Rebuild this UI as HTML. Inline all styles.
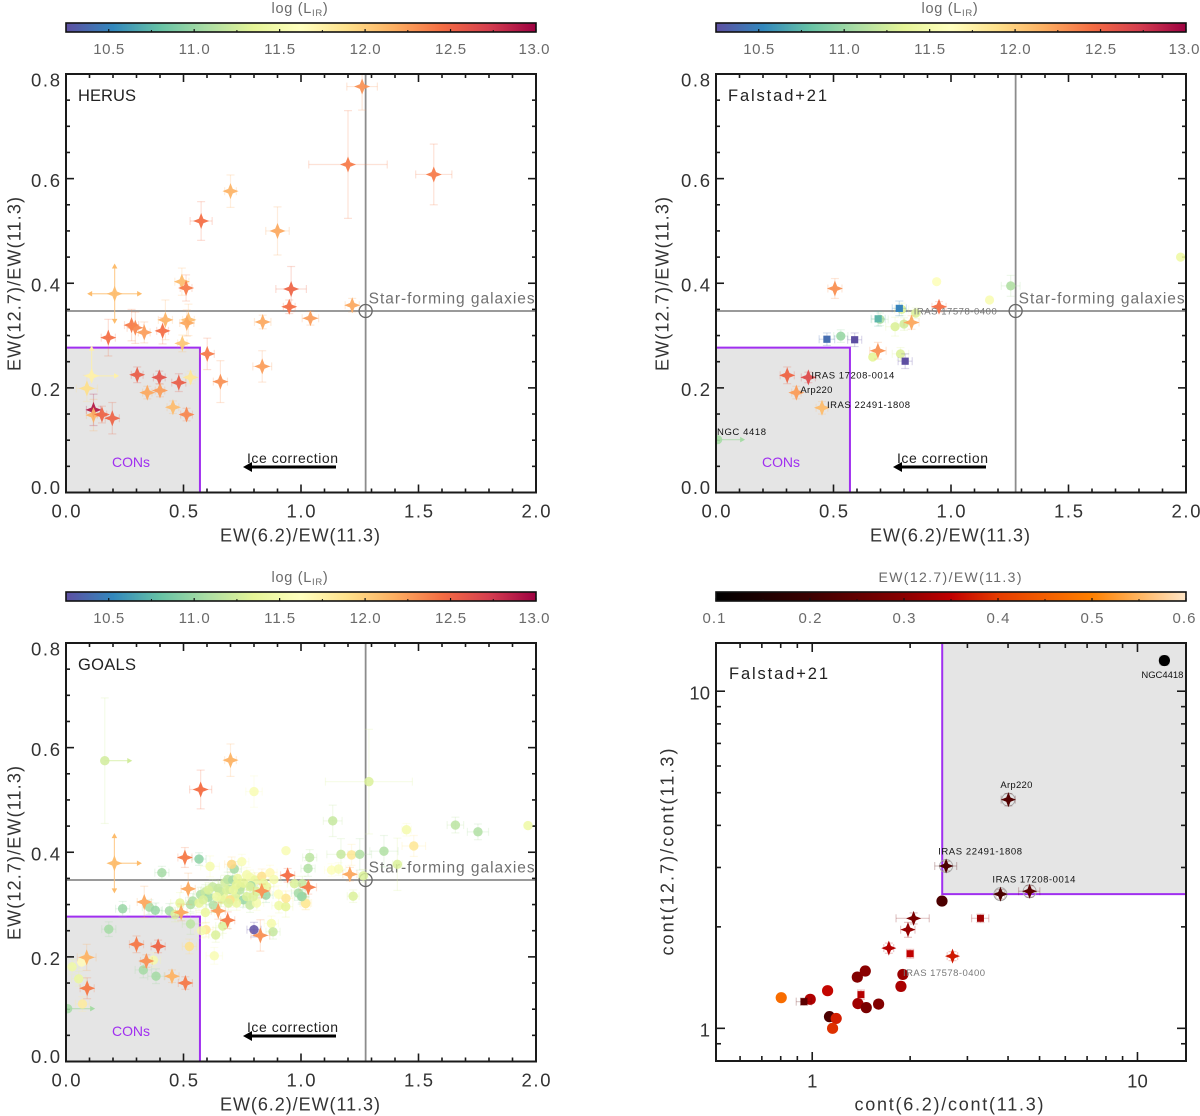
<!DOCTYPE html>
<html>
<head>
<meta charset="utf-8">
<title>PAH equivalent width ratio diagrams</title>
<style>
html,body{margin:0;padding:0;background:#fff}
svg{display:block}
text{font-family:"Liberation Sans",sans-serif}
</style>
</head>
<body>
<svg id="fig" xmlns="http://www.w3.org/2000/svg" width="1200" height="1116" viewBox="0 0 1200 1116">
<defs id="defs"></defs>
<rect width="1200" height="1116" fill="#fff"></rect>
<g id="p1"></g>
<g id="p2"></g>
<g id="p3"></g>
<g id="p4"></g>
</svg>
<script>
/* ---------- shared axis labels ---------- */
const ewXTicks = [0, 0.5, 1, 1.5, 2];
const ewXTickLabels = ['0.0', '0.5', '1.0', '1.5', '2.0'];
const ewYTicks = [0, 0.2, 0.4, 0.6, 0.8];
const ewYTickLabels = ['0.0', '0.2', '0.4', '0.6', '0.8'];
const lirTicks = [10.5, 11, 11.5, 12, 12.5, 13];
const lirTickLabels = ['10.5', '11.0', '11.5', '12.0', '12.5', '13.0'];
const ratioTicks = [0.1, 0.2, 0.3, 0.4, 0.5, 0.6];
const ratioTickLabels = ['0.1', '0.2', '0.3', '0.4', '0.5', '0.6'];
const contXMajor = [1, 10];
const contXMinor = [0.6, 0.7, 0.8, 0.9, 2, 3, 4, 5, 6, 7, 8, 9];
const contYMajor = [1, 10];
const contYMinor = [0.9, 2, 3, 4, 5, 6, 7, 8, 9];
const contTickLabels = ['1', '10'];

/* ---------- reference positions ---------- */
const starFormingX = 1.275;
const starFormingY = 0.347;
const conLimitX = 0.57;
const conLimitY = 0.277;
const contConLimitX = 2.51;
const contConLimitY = 2.5;

/* ---------- HERUS ---------- */
const herusX = [1.26,1.20,1.565,.70,.575,.90,.958,.493,.511,.207,1.218,.95,1.04,.837,.423,.521,.514,.279,.295,.333,.411,.18,.495,.601,.835,.657,.303,.397,.48,.53,.109,.089,.346,.40,.455,.513,.117,.117,.153,.197];
const herusY = [.776,.627,.608,.576,.519,.50,.389,.403,.391,.38,.358,.355,.333,.326,.33,.33,.324,.32,.315,.306,.309,.296,.285,.265,.241,.212,.225,.22,.21,.22,.223,.199,.191,.195,.163,.149,.158,.148,.149,.142];
const herusXerr = [.065,.167,.077,.025,.047,.05,.065,.03,.025,.1,.03,.025,.035,.035,.03,.025,.03,.03,.035,.025,.025,.03,.02,.03,.04,.03,.025,.025,.03,.02,.1,.045,.02,.02,.025,.025,.03,.03,.02,.03];
const herusYerr = [.045,.103,.058,.031,.037,.046,.043,.026,.025,.05,.013,.013,.013,.013,.038,.03,.025,.03,.03,.02,.025,.035,.016,.03,.03,.04,.015,.012,.017,.012,.05,.025,.012,.012,.012,.012,.03,.03,.016,.03];
const herusLir = [12.3,12.4,12.4,12.15,12.45,12.2,12.5,12.1,12.4,12.1,12.2,12.45,12.25,12.2,12.15,12.1,12.2,12.4,12.35,12.25,12.45,12.45,12.05,12.4,12.25,12.3,12.55,12.6,12.55,11.85,11.75,11.9,12.2,12.25,12.1,12.35,12.9,12.15,12.5,12.5];
const herusArrows = {9: 'lrud', 30: 'ru'};

/* ---------- Falstad+21, EW plane ---------- */
const falCircleX = [.79,.939,1.164,1.254,1.977,.698,.762,.80,.85,.531,.667,.785,.007];
const falCircleY = [.35,.403,.368,.395,.45,.331,.317,.322,.343,.299,.259,.265,.101];
const falCircleXerr = [.03,0,0,.04,0,.035,.04,.03,.02,.03,0,.035,.1];
const falCircleYerr = [.012,0,0,.02,0,.012,.018,.012,.01,.012,0,.012,0];
const falCircleLir = [11.3,11.6,11.55,11.1,11.45,11.1,11.3,11.25,11.3,11.0,11.35,11.3,11.05];
const falCircleArrows = {12: 'r'};
const falStarX = [.506,.949,.832,.689,.303,.393,.342,.451];
const falStarY = [.39,.355,.325,.271,.224,.22,.191,.162];
const falStarXerr = [.03,.03,.032,.035,.03,.03,.02,.025];
const falStarYerr = [.019,.01,.013,.016,.016,.01,.012,.012];
const falStarLir = [12.3,12.45,12.2,12.3,12.5,12.65,12.25,12.1];
const falSquareX = [.78,.69,.472,.59,.805];
const falSquareY = [.352,.332,.293,.292,.251];
const falSquareXerr = [.03,.03,.033,.03,.03];
const falSquareYerr = [.014,.014,.012,.013,.014];
const falSquareLir = [10.5,10.75,10.4,10.25,10.25];
const falSourceNames = ['IRAS 17208-0014', 'Arp220', 'IRAS 22491-1808', 'NGC 4418', 'IRAS 17578-0400'];

/* ---------- GOALS ---------- */
const goalsCircleX = [.165,.80,1.135,.566,.408,.613,.936,1.037,1.03,1.17,1.13,1.16,1.289,1.449,1.657,1.753,1.966,1.353,1.48,1.41,1.215,1.25,1.265,1.222,1.02,1.005,
 .329,.383,.372,.525,.067,.026,.054,.07,.007,.631,
 .241,.355,.380,.440,.464,.485,.530,.182,.530,.539,
 .566,.573,.593,.607,.593,.596,.577,.637,.667,.874,
 .881,.627,.624,.648,.661,.670,.677,.688,.709,.716,
 .705,.748,.698,.721,.730,.743,.769,.783,.804,.787,
 .755,.740,.783,.811,.769,.726,.698,.833,.868,.885,
 .854,.851,.904,.906,.935,.936,1.020,.989,1.003,.972,
 1.006,.655,.684,.712,.755,.811,.641,.606,.584,.783,
 .726,.691,.797,.840,.80];
const goalsCircleY = [.575,.516,.46,.387,.361,.373,.403,.39,.369,.396,.366,.368,.535,.443,.452,.439,.451,.402,.412,.377,.395,.396,.355,.316,.302,.316,
 .175,.163,.194,.22,.19,.181,.158,.11,.101,.202,
 .292,.295,.289,.288,.281,.303,.263,.253,.300,.307,
 .303,.319,.324,.314,.285,.252,.250,.242,.259,.264,
 .248,.299,.334,.331,.310,.315,.342,.348,.347,.368,
 .377,.382,.329,.315,.350,.334,.357,.352,.347,.336,
 .309,.328,.299,.303,.315,.303,.309,.354,.361,.348,
 .334,.318,.320,.298,.296,.312,.303,.322,.315,.340,
 .340,.325,.328,.328,.341,.325,.315,.328,.309,.334,
 .338,.303,.315,.341,.252];
const goalsCircleXerr = [.1,.035,.04,.03,.03,.04,0,.03,.03,.06,.03,.03,.185,.02,.035,.045,0,.06,.05,.02,.03,.05,.02,.025,.02,.02,
 .035,.035,.03,.03,.03,.03,.03,.03,.1,.035,
 .03,.03,.03,.035,.03,.04,.035,.03,.03,.03,
 .03,.03,.03,.03,.04,.03,.03,.03,.03,.03,
 .03,.03,.03,.03,.03,.03,.03,.03,.03,.03,
 .03,.03,.03,.035,.03,.03,.03,.03,.03,.03,
 .03,.03,.03,.03,.03,.03,.03,.03,.03,.03,
 .03,.03,.03,.03,.03,.03,.025,.03,.03,.03,
 .03,.03,.03,.03,.03,.03,.03,.03,.03,.03,
 .03,.03,.03,.03,.03];
const goalsCircleYerr = [.12,.03,.03,.012,.012,.02,0,.015,.015,.03,.012,.012,.1,.012,.015,.015,0,.03,.02,.05,.02,.03,.012,.012,.012,.012,
 .015,.014,.014,.014,.014,.014,.014,.014,0,.016,
 .014,.014,.014,.014,.014,.02,.02,.014,.014,.014,
 .014,.014,.014,.014,.02,.014,.014,.014,.014,.014,
 .014,.014,.014,.014,.014,.014,.014,.014,.014,.014,
 .014,.014,.014,.016,.014,.014,.014,.014,.014,.014,
 .014,.014,.014,.014,.014,.014,.014,.014,.014,.014,
 .014,.014,.016,.014,.02,.014,.012,.014,.014,.014,
 .014,.014,.014,.014,.014,.014,.014,.014,.014,.014,
 .014,.014,.014,.014,.014];
const goalsCircleLir = [11.25,11.55,11.2,10.95,11.05,11.5,11.55,11.15,11.1,11.2,11.6,11.55,11.3,11.5,11.15,11.1,11.45,11.1,11.85,11.3,11.85,11.1,11.3,11.3,11.9,11.05,
 11.05,11.05,11.5,11.9,11.65,11.45,11.4,11.8,11.05,11.55,
 11.0,11.05,11.0,11.05,11.3,11.35,11.15,11.05,11.1,11.1,
 11.35,11.1,11.2,11.05,11.4,11.85,11.5,11.3,11.3,11.5,
 11.2,11.1,11.2,11.2,11.3,11.4,11.25,11.15,11.05,11.05,
 11.95,11.55,11.1,11.3,11.4,11.2,11.5,11.5,11.4,11.05,
 11.0,11.15,11.2,11.5,11.3,11.4,11.9,11.9,11.7,11.5,
 11.4,11.0,11.6,11.45,11.35,11.85,11.8,11.05,11.0,11.3,
 11.2,11.2,11.3,11.4,11.35,11.3,11.45,11.3,11.3,11.3,
 11.35,11.3,11.3,11.4,10.25];
const goalsCircleArrows = {0: 'r', 34: 'r'};
const goalsStarX = [.573,.70,.506,.206,.943,1.031,.52,.333,.833,.49,.648,.688,.827,1.208,.30,.392,.342,.451,.508,.088,.09];
const goalsStarY = [.52,.576,.39,.379,.356,.333,.33,.305,.326,.285,.288,.27,.241,.358,.224,.22,.192,.163,.15,.199,.14];
const goalsStarXerr = [.047,.025,.03,.1,.03,.035,.03,.03,.035,.025,.03,.03,.04,.03,.03,.03,.025,.03,.03,.04,.03];
const goalsStarYerr = [.037,.031,.019,.05,.013,.013,.03,.03,.013,.016,.016,.016,.03,.013,.016,.012,.012,.012,.012,.025,.02];
const goalsStarLir = [12.45,12.15,12.4,12.1,12.45,12.4,12.2,12.2,12.3,12.2,12.25,12.4,12.3,12.2,12.4,12.5,12.3,12.15,12.4,12.15,12.4];
const goalsStarArrows = {3: 'rud'};

/* ---------- Falstad+21, continuum plane ---------- */
const contCircleX = [.803,.986,1.115,1.13,1.185,1.155,1.376,1.456,1.382,1.466,1.6,1.874,1.90,2.506,12.1];
const contCircleY = [1.233,1.219,1.293,1.083,1.07,1.0,1.419,1.479,1.184,1.152,1.18,1.332,1.445,2.385,12.33];
const contCircleXerr = [0,.03,.03,.02,.02,.02,.04,.04,.03,.03,.05,.05,.05,0,.4];
const contCircleYerr = [.03,.03,.03,.02,.02,.02,.04,.04,.03,.03,.03,.04,.04,0,.4];
const contCircleRatio = [.47,.335,.355,.22,.375,.39,.29,.30,.32,.28,.29,.33,.315,.22,.1];
const contStarX = [1.72,2.70,1.97,2.05,3.79,4.66,2.58,4.01];
const contStarY = [1.73,1.638,1.962,2.12,2.5,2.55,3.03,4.77];
const contStarXerr = [.06,.1,.1,.24,.12,.35,.2,.2];
const contStarYerr = [.06,.05,.1,.08,.08,.1,.1,.2];
const contStarRatio = [.34,.37,.31,.28,.22,.24,.22,.23];
const contStarRinged = [0,0,0,0,1,1,1,1];
const contSquareX = [.943,1.412,2.0,3.29];
const contSquareY = [1.20,1.259,1.665,2.12];
const contSquareXerr = [.05,.03,.05,.2];
const contSquareYerr = [.03,.04,.05,.06];
const contSquareRatio = [.24,.34,.35,.32];
const contSourceNames = ['NGC4418', 'Arp220', 'IRAS 22491-1808', 'IRAS 17208-0014', 'IRAS 17578-0400'];

/* ---------- helpers ---------- */
const NS = 'http://www.w3.org/2000/svg';
function mk(tag, attrs, parent) {
  const el = document.createElementNS(NS, tag);
  for (const k in attrs) el.setAttribute(k, attrs[k]);
  if (parent) parent.appendChild(el);
  return el;
}
function hexRgb(h) { return [1, 3, 5].map(i => parseInt(h.substr(i, 2), 16)); }
function ramp(stops, t) {
  t = Math.max(0, Math.min(1, t));
  for (let i = 1; i < stops.length; i++) {
    if (t <= stops[i][0]) {
      const a = stops[i - 1], b = stops[i], f = (t - a[0]) / (b[0] - a[0]);
      const ca = hexRgb(a[1]), cb = hexRgb(b[1]);
      return 'rgb(' + ca.map((v, j) => Math.round(v + (cb[j] - v) * f)).join(',') + ')';
    }
  }
  return stops[stops.length - 1][1];
}
const spectral = ['#5e4fa2','#3288bd','#66c2a5','#abdda4','#e6f598','#ffffbf','#fee08b','#fdae61','#f46d43','#d53e4f','#9e0142'].map((c, i) => [i / 10, c]);
const heat = [[0,'#000000'],[.2,'#3c0000'],[.4,'#8a0000'],[.5,'#c00000'],[.6,'#e63c00'],[.8,'#ff8000'],[.9,'#ffb560'],[1,'#ffe6c8']];
const lirColor = v => ramp(spectral, (v - 10.25) / 2.75);
const ratioColor = v => ramp(heat, (v - 0.1) / 0.5);
let clipCount = 0;
function makeClip(L, T, R, B) {
  const id = 'clip' + (clipCount++);
  const c = mk('clipPath', {id: id}, document.getElementById('defs'));
  mk('rect', {x: L, y: T, width: R - L, height: B - T}, c);
  return id;
}

function txt(parent, x, y, str, size, fill, anchor, len, name, rot) {
  const a = {x: x, y: y + size * 0.36, 'font-size': size, fill: fill, 'text-anchor': anchor};
  if (len) { a.textLength = len; a.lengthAdjust = 'spacing'; }
  if (rot) a.transform = 'rotate(' + rot + ' ' + x + ' ' + y + ')';
  const t = mk('text', a, parent);
  t.textContent = str;
  
  
  return t;
}
function seg(parent, x1, y1, x2, y2, stroke, w, name, op) {
  const l = mk('line', {x1: x1, y1: y1, x2: x2, y2: y2, stroke: stroke, 'stroke-width': w}, parent);
  if (op) l.setAttribute('stroke-opacity', op);
  
  
  return l;
}
function arrowHead(parent, x, y, dx, dy, col, s) {
  const p = mk('polygon', {
    points: [x + dx * s, y + dy * s, x - dy * s * 0.55, y + dx * s * 0.55, x + dy * s * 0.55, y - dx * s * 0.55].join(','),
    fill: col
  }, parent);
  
  
}
function marker(parent, kind, px, py, size, col, op) {
  let m;
  if (kind === 'circle') {
    m = mk('circle', {cx: px, cy: py, r: size, fill: col}, parent);
  } else if (kind === 'square') {
    m = mk('rect', {x: px - size, y: py - size, width: size * 2, height: size * 2, fill: col}, parent);
  } else {
    const q = size * 0.4, pts = [];
    for (let i = 0; i < 8; i++) {
      const an = i * Math.PI / 4, r = i % 2 ? q : size;
      pts.push((px + r * Math.sin(an)).toFixed(2) + ',' + (py - r * Math.cos(an)).toFixed(2));
    }
    m = mk('polygon', {points: pts.join(' '), fill: col}, parent);
  }
  m.setAttribute('fill-opacity', op);
  
  
}
function drawSeries(parent, ax, kind, xs, ys, xe, ye, cv, colorFn, size, op, arrows) {
  const map = arrows || {};
  const errs = mk('g', {'clip-path': 'url(#' + ax.clip + ')'}, parent);
  
  
  const marks = mk('g', {'clip-path': 'url(#' + ax.clip + ')'}, parent);
  
  
  xs.forEach((xv, i) => {
    const col = colorFn(cv[i]);
    const px = ax.x(xv), py = ax.y(ys[i]);
    const xl = ax.x(Math.max(xv - xe[i], ax.xFloor)), xh = ax.x(xv + xe[i]);
    const yl = ax.y(ys[i] - ye[i]), yh = ax.y(ys[i] + ye[i]);
    const dirs = map[i] || '';
    const capSize = 4;
    const hasX = /[lr]/.test(dirs), hasY = /[ud]/.test(dirs);
    if (hasX || hasY) {
      if (dirs.includes('r')) { seg(errs, px, py, xh, py, col, 1.2, 'x-limit-arrow', .7); arrowHead(errs, xh - 1, py, 1, 0, col, 5); }
      if (dirs.includes('l')) { seg(errs, px, py, xl, py, col, 1.2, 'x-limit-arrow', .7); arrowHead(errs, xl + 1, py, -1, 0, col, 5); }
      if (dirs.includes('u')) { seg(errs, px, py, px, yh, col, 1.2, 'y-limit-arrow', .7); arrowHead(errs, px, yh + 1, 0, -1, col, 5); }
      if (dirs.includes('d')) { seg(errs, px, py, px, yl, col, 1.2, 'y-limit-arrow', .7); arrowHead(errs, px, yl - 1, 0, 1, col, 5); }
    }
    if (!hasX && xe[i] > 0) {
      seg(errs, xl, py, xh, py, col, 1.2, 'x-error-bar', .22);
      seg(errs, xl, py - capSize, xl, py + capSize, col, 1.2, 'x-error-cap', .22);
      seg(errs, xh, py - capSize, xh, py + capSize, col, 1.2, 'x-error-cap', .22);
    }
    if (!hasY && ye[i] > 0) {
      seg(errs, px, yl, px, yh, col, 1.2, 'y-error-bar', .22);
      seg(errs, px - capSize, yl, px + capSize, yl, col, 1.2, 'y-error-cap', .22);
      seg(errs, px - capSize, yh, px + capSize, yh, col, 1.2, 'y-error-cap', .22);
    }
    marker(marks, kind, px, py, size, col, op);
  });
}
let gradId = 0;
function colorbar(parent, L, W, top, min, max, ticks, labels, colorFn, minorStep, labelW) {
  const id = 'grad' + (gradId++);
  const g = mk('linearGradient', {id: id, x1: 0, x2: 1, y1: 0, y2: 0}, document.getElementById('defs'));
  for (let i = 0; i <= 30; i++) mk('stop', {offset: i / 30, 'stop-color': colorFn(min + (max - min) * i / 30)}, g);
  const cb = mk('g', {}, parent);
  
  
  const sx = v => L + (v - min) / (max - min) * W;
  const r = mk('rect', {x: L, y: top - 51, width: W, height: 9, fill: 'url(#' + id + ')', stroke: '#111', 'stroke-width': 1.6}, cb);
  
  
  ticks.forEach((t, i) => {
    seg(cb, sx(t), top - 42, sx(t), top - 45, '#111', 1.2, 'colorbar-tick');
    if (i < ticks.length - 1) seg(cb, sx(t + minorStep), top - 42, sx(t + minorStep), top - 44, '#111', 1, 'colorbar-minor-tick');
    const shift = i === ticks.length - 1 ? -2 : (min === 0.1 && i === 0 ? -2 : 0);
    txt(cb, sx(t) + shift, top - 25.5, labels[i], 15, '#6a6a6a', 'middle', labelW, 'colorbar-tick-label');
  });
  return cb;
}
function lirTitle(parent, cx, top) {
  const t = mk('text', {x: cx, y: top - 61, 'font-size': 14.5, fill: '#6a6a6a', 'text-anchor': 'middle', 'letter-spacing': '0.7'}, parent);
  
  
  const a = mk('tspan', {}, t); a.textContent = 'log  (L';
  const b = mk('tspan', {dy: 3, 'font-size': 9.5}, t); b.textContent = 'IR';
  const c = mk('tspan', {dy: -3}, t); c.textContent = ')';
}
function frame(parent, L, T, R, B) {
  const r = mk('rect', {x: L, y: T, width: R - L, height: B - T, fill: 'none', stroke: '#1a1a1a', 'stroke-width': 2}, parent);
  
  
}

/* ---------- EW(12.7) vs EW(6.2) panels ---------- */
function ewPanel(parent, L, T, title, yTitleOffset) {
  const W = 470, H = 418.5, R = L + W, B = T + H;
  const ax = {
    x: v => L + v / 2 * W,
    y: v => B - v / 0.8 * H,
    xFloor: 0,
    clip: makeClip(L, T, R, B)
  };
  colorbar(parent, L, W, T, 10.25, 13, lirTicks, lirTickLabels, lirColor, 0.25, 31);
  lirTitle(parent, L + 234, T);

  const cons = mk('rect', {x: ax.x(0), y: ax.y(conLimitY), width: ax.x(conLimitX) - ax.x(0), height: ax.y(0) - ax.y(conLimitY), fill: '#e5e5e5'}, parent);
  
  
  const con = mk('polyline', {points: [ax.x(0), ax.y(conLimitY), ax.x(conLimitX), ax.y(conLimitY), ax.x(conLimitX), ax.y(0)].join(','), fill: 'none', stroke: '#a02ff0', 'stroke-width': 2}, parent);
  
  

  const sx = ax.x(starFormingX), sy = ax.y(starFormingY);
  seg(parent, L, sy, R, sy, '#8c8c8c', 1.8, 'star-forming-horizontal-line');
  seg(parent, sx, T, sx, B, '#8c8c8c', 1.8, 'star-forming-vertical-line');
  const ring = mk('circle', {cx: sx, cy: sy, r: 6.5, fill: 'none', stroke: '#666', 'stroke-width': 1.3}, parent);
  
  

  txt(parent, sx + 3, T + 224, 'Star-forming galaxies', 15.5, '#707070', 'start', 166, 'star-forming-label');
  txt(parent, L + 65, B - 30.5, 'CONs', 14, '#a02ff0', 'middle', 38, 'cons-label');
  txt(parent, L + 181, B - 34.5, 'Ice correction', 14, '#222', 'start', 91, 'ice-correction-label');
  seg(parent, L + 270, B - 25.5, L + 184, B - 25.5, '#000', 3, 'ice-correction-arrow');
  arrowHead(parent, L + 186, B - 25.5, -1, 0, '#000', 9);
  txt(parent, L + 12, T + 21, title, 16.5, '#222', 'start', title === 'Falstad+21' ? 99 : 58, 'dataset-label');

  const tx = mk('g', {}, parent);
  
  
  const ty = mk('g', {}, parent);
  
  
  for (let i = 0; i <= 20; i++) {
    const p = ax.x(i / 10), len = i % 5 === 0 ? 8 : 4;
    seg(tx, p, B, p, B - len, '#1a1a1a', 1.6, 'x-tick');
    seg(tx, p, T, p, T + len, '#1a1a1a', 1.6, 'x-tick');
  }
  for (let i = 0; i <= 16; i++) {
    const p = ax.y(i * 0.05), len = i % 4 === 0 ? 8 : 4;
    seg(ty, L, p, L + len, p, '#1a1a1a', 1.6, 'y-tick');
    seg(ty, R, p, R - len, p, '#1a1a1a', 1.6, 'y-tick');
  }
  ewXTicks.forEach((v, i) => txt(tx, ax.x(v), B + 18.5, ewXTickLabels[i], 18.5, '#333', 'middle', 29, 'x-tick-label'));
  ewYTicks.forEach((v, i) => {
    const shift = v === 0.8 ? 6 : (v === 0 ? -5 : 1.5);
    txt(ty, L - 6, ax.y(v) + shift, ewYTickLabels[i], 18.5, '#333', 'end', 29, 'y-tick-label');
  });
  txt(tx, L + 234, B + 42.5, 'EW(6.2)/EW(11.3)', 18, '#333', 'middle', 160, 'x-axis-title');
  txt(ty, L - yTitleOffset, T + 210, 'EW(12.7)/EW(11.3)', 18, '#333', 'middle', 174, 'y-axis-title', -90);
  return {ax: ax, L: L, T: T, R: R, B: B};
}

/* panel 1 */
const p1 = document.getElementById('p1');
const a1 = ewPanel(p1, 66, 74, 'HERUS', 52);
drawSeries(p1, a1.ax, 'star', herusX, herusY, herusXerr, herusYerr, herusLir, lirColor, 8, .92, herusArrows);
frame(p1, a1.L, a1.T, a1.R, a1.B);

/* panel 2 */
const p2 = document.getElementById('p2');
const a2 = ewPanel(p2, 716, 74, 'Falstad+21', 54);
drawSeries(p2, a2.ax, 'circle', falCircleX, falCircleY, falCircleXerr, falCircleYerr, falCircleLir, lirColor, 4.6, .9, falCircleArrows);
drawSeries(p2, a2.ax, 'square', falSquareX, falSquareY, falSquareXerr, falSquareYerr, falSquareLir, lirColor, 3.6, 1);
drawSeries(p2, a2.ax, 'star', falStarX, falStarY, falStarXerr, falStarYerr, falStarLir, lirColor, 8, .95);
txt(p2, a2.ax.x(falStarX[5]) + 3, a2.ax.y(falStarY[5]) - 2.5, falSourceNames[0], 9.5, '#111', 'start', 83, 'source-label');
txt(p2, a2.ax.x(falStarX[6]) + 4, a2.ax.y(falStarY[6]) - 3, falSourceNames[1], 9.5, '#111', 'start', 32, 'source-label');
txt(p2, a2.ax.x(falStarX[7]) + 5, a2.ax.y(falStarY[7]) - 3, falSourceNames[2], 9.5, '#111', 'start', 83, 'source-label');
txt(p2, 717, a2.ax.y(falCircleY[12]) - 8, falSourceNames[3], 9.5, '#111', 'start', 49, 'source-label');
txt(p2, a2.ax.x(falCircleX[8]) - 2, a2.ax.y(falCircleY[8]) - 2, falSourceNames[4], 9.5, '#777', 'start', 83, 'source-label');
frame(p2, a2.L, a2.T, a2.R, a2.B);

/* panel 3 */
const p3 = document.getElementById('p3');
const a3 = ewPanel(p3, 66, 643, 'GOALS', 52);
drawSeries(p3, a3.ax, 'circle', goalsCircleX, goalsCircleY, goalsCircleXerr, goalsCircleYerr, goalsCircleLir, lirColor, 4.7, .85, goalsCircleArrows);
drawSeries(p3, a3.ax, 'star', goalsStarX, goalsStarY, goalsStarXerr, goalsStarYerr, goalsStarLir, lirColor, 8, .95, goalsStarArrows);
frame(p3, a3.L, a3.T, a3.R, a3.B);

/* panel 4 */
(function () {
  const parent = document.getElementById('p4');
  const L = 716, R = 1186, T = 643, B = 1061;
  const xMin = 0.506, xMax = 14.1, yMin = 0.8, yMax = 13.9;
  const ax = {
    x: v => L + (Math.log10(v) - Math.log10(xMin)) / (Math.log10(xMax) - Math.log10(xMin)) * (R - L),
    y: v => B - (Math.log10(v) - Math.log10(yMin)) / (Math.log10(yMax) - Math.log10(yMin)) * (B - T),
    xFloor: xMin,
    clip: makeClip(L, T, R, B)
  };
  colorbar(parent, L, R - L, T, 0.1, 0.6, ratioTicks, ratioTickLabels, ratioColor, 0.05, 23);
  txt(parent, 950, T - 66, 'EW(12.7)/EW(11.3)', 14, '#6a6a6a', 'middle', 143, 'colorbar-title');

  const gx = ax.x(contConLimitX), gy = ax.y(contConLimitY);
  const cons = mk('rect', {x: gx, y: T, width: R - gx, height: gy - T, fill: '#e5e5e5'}, parent);
  
  
  const con = mk('polyline', {points: [gx, T, gx, gy, R, gy].join(','), fill: 'none', stroke: '#a02ff0', 'stroke-width': 2}, parent);
  
  

  const rings = mk('g', {}, parent);
  
  
  contStarX.forEach((v, i) => {
    if (contStarRinged[i]) {
      const c = mk('circle', {cx: ax.x(v), cy: ax.y(contStarY[i]), r: 6.5, fill: 'none', stroke: '#aaa', 'stroke-width': 1}, rings);
      
      
    }
  });
  drawSeries(parent, ax, 'circle', contCircleX, contCircleY, contCircleXerr, contCircleYerr, contCircleRatio, ratioColor, 5.6, 1);
  drawSeries(parent, ax, 'square', contSquareX, contSquareY, contSquareXerr, contSquareYerr, contSquareRatio, ratioColor, 3.5, 1);
  drawSeries(parent, ax, 'star', contStarX, contStarY, contStarXerr, contStarYerr, contStarRatio, ratioColor, 7.5, 1);

  txt(parent, ax.x(contCircleX[14]) - 2, ax.y(contCircleY[14]) + 14, contSourceNames[0], 9.5, '#111', 'middle', 42, 'source-label');
  txt(parent, ax.x(contStarX[7]) + 8, ax.y(contStarY[7]) - 15, contSourceNames[1], 9.5, '#111', 'middle', 32, 'source-label');
  txt(parent, ax.x(contStarX[6]) - 8, ax.y(contStarY[6]) - 15, contSourceNames[2], 9.5, '#111', 'start', 84, 'source-label');
  txt(parent, ax.x(contStarX[4]) - 8, ax.y(contStarY[4]) - 15, contSourceNames[3], 9.5, '#111', 'start', 83, 'source-label');
  txt(parent, 903, 972.5, contSourceNames[4], 9.5, '#777', 'start', 82, 'source-label');
  txt(parent, 729, T + 30, 'Falstad+21', 16.5, '#222', 'start', 99, 'dataset-label');

  const tx = mk('g', {}, parent);
  
  
  const ty = mk('g', {}, parent);
  
  
  contXMinor.forEach(v => {
    seg(tx, ax.x(v), B, ax.x(v), B - 5, '#1a1a1a', 1.6, 'x-minor-tick');
    seg(tx, ax.x(v), T, ax.x(v), T + 5, '#1a1a1a', 1.6, 'x-minor-tick');
  });
  contYMinor.forEach(v => {
    seg(ty, L, ax.y(v), L + 5, ax.y(v), '#1a1a1a', 1.6, 'y-minor-tick');
    seg(ty, R, ax.y(v), R - 5, ax.y(v), '#1a1a1a', 1.6, 'y-minor-tick');
  });
  contXMajor.forEach((v, i) => {
    seg(tx, ax.x(v), B, ax.x(v), B - 9, '#1a1a1a', 1.6, 'x-major-tick');
    seg(tx, ax.x(v), T, ax.x(v), T + 9, '#1a1a1a', 1.6, 'x-major-tick');
    txt(tx, ax.x(v), B + 20, contTickLabels[i], 18.5, '#333', 'middle', 0, 'x-tick-label');
  });
  contYMajor.forEach((v, i) => {
    seg(ty, L, ax.y(v), L + 9, ax.y(v), '#1a1a1a', 1.6, 'y-major-tick');
    seg(ty, R, ax.y(v), R - 9, ax.y(v), '#1a1a1a', 1.6, 'y-major-tick');
    txt(ty, L - 6, ax.y(v) + 1.5, contTickLabels[i], 18.5, '#333', 'end', 0, 'y-tick-label');
  });
  txt(tx, 949, B + 43, 'cont(6.2)/cont(11.3)', 18, '#333', 'middle', 189, 'x-axis-title');
  txt(ty, 667, 852, 'cont(12.7)/cont(11.3)', 18, '#333', 'middle', 207, 'y-axis-title', -90);
  frame(parent, L, T, R, B);
})();
</script>
</body>
</html>
